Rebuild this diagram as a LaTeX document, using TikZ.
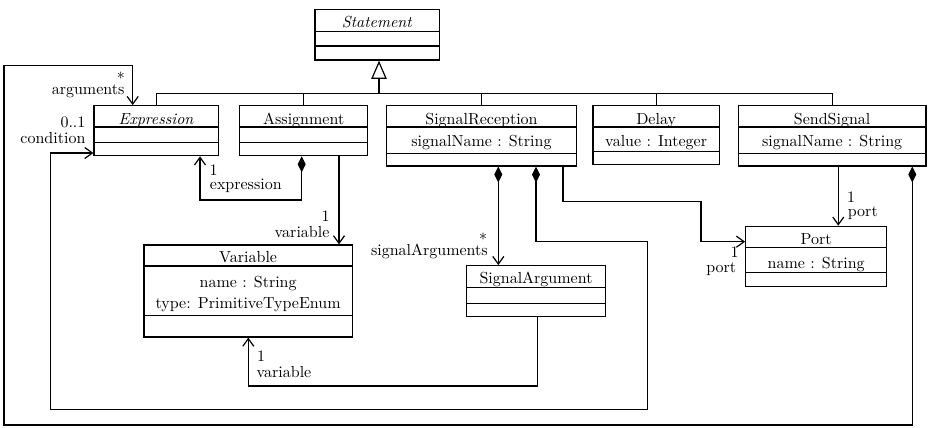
\documentclass[tikz,border=0pt]{standalone}
\usetikzlibrary{arrows.meta,fit}
% separator line between two compartments of a class box
\newcommand\umlsep[2]{\draw (#1.west |- 0,#2) -- (#1.east |- 0,#2);}
\begin{document}
\begin{tikzpicture}[x=0.625pt,y=-0.625pt,
  line width=0.75pt,
  classbox/.style={draw, inner sep=0pt, fit={#1}},
  ctext/.style={anchor=base, inner sep=0pt},
  lbl/.style={inner sep=0pt},
  assoc/.style={-{Straight Barb[length=4.8pt,width=6.9pt]}},
  compo/.style={{Diamond[length=10pt,width=5pt]}-{Straight Barb[length=4.8pt,width=6.9pt]}},
  inherit/.style={-{Triangle[open,length=11.4pt,width=9.6pt]}},
]
\useasboundingbox (0,0) rectangle (929,427);

% ---- classes ----
\node[classbox={(315,9.3) (439.3,60)}] (stmt) {};
\umlsep{stmt}{31.7}\umlsep{stmt}{46}
\node[ctext] (stmt-name) at (stmt.center |- 0,27.5) {\textit{Statement}};

\node[classbox={(94,105.7) (218.3,155.7)}] (expr) {};
\umlsep{expr}{127}\umlsep{expr}{142.3}
\node[ctext] (expr-name) at (expr.center |- 0,124) {\textit{Expression}};

\node[classbox={(239.7,105.7) (367.7,155.7)}] (assign) {};
\umlsep{assign}{127}\umlsep{assign}{142.3}
\node[ctext] (assign-name) at (assign.center |- 0,124) {Assignment};

\node[classbox={(386.7,105.7) (576.3,166)}] (sigrec) {};
\umlsep{sigrec}{127}\umlsep{sigrec}{153.3}
\node[ctext] (sigrec-name) at (sigrec.center |- 0,124) {SignalReception};
\node[ctext] (sigrec-attr) at (sigrec.center |- 0,146.7) {signalName : String};

\node[classbox={(593,105.7) (719.3,164.7)}] (delay) {};
\umlsep{delay}{127}\umlsep{delay}{151.3}
\node[ctext] (delay-name) at (delay.center |- 0,124) {Delay};
\node[ctext] (delay-attr) at (delay.center |- 0,146.7) {value : Integer};

\node[classbox={(738.3,105.7) (926,166)}] (send) {};
\umlsep{send}{127}\umlsep{send}{153.3}
\node[ctext] (send-name) at (send.center |- 0,124) {SendSignal};
\node[ctext] (send-attr) at (send.center |- 0,146.7) {signalName : String};

\node[classbox={(144,245) (352.3,337)}] (var) {};
\umlsep{var}{266}\umlsep{var}{315.3}
\node[ctext] (var-name) at (var.center |- 0,262.7) {Variable};
\node[ctext] (var-attr1) at (var.center |- 0,287.3) {name : String};
\node[ctext] (var-attr2) at (var.center |- 0,308.7) {type: PrimitiveTypeEnum};

\node[classbox={(466.7,265.7) (605.3,316.7)}] (sigarg) {};
\umlsep{sigarg}{287.7}\umlsep{sigarg}{303.3}
\node[ctext] (sigarg-name) at (sigarg.center |- 0,283.3) {SignalArgument};

\node[classbox={(745.7,226.3) (886.7,286.7)}] (port) {};
\umlsep{port}{247.7}\umlsep{port}{272.7}
\node[ctext] (port-name) at (port.center |- 0,244.3) {Port};
\node[ctext] (port-attr) at (port.center |- 0,268.3) {name : String};

% ---- generalization ----
\coordinate (bus) at (379,93.7);
\draw[inherit] (bus) -- (stmt.south -| bus);
\draw (expr.north) -- (expr.north |- bus) -- (send.north |- bus) -- (send.north);
\foreach \c in {assign,sigrec,delay} \draw (\c.north) -- (\c.north |- bus);

% ---- arguments: SendSignal -> Expression ----
\coordinate (argsA) at (912.3,425);
\coordinate (argsB) at (4,65.7);
\coordinate (argsC) at (132.7,65.7);
\draw[compo] (send.south -| argsA) -- (argsA) -- (argsB |- argsA) -- (argsB) -- (argsC) -- (expr.north -| argsC);

% ---- condition: SignalReception -> Expression ----
\coordinate (condA) at (536,241.7);
\coordinate (condB) at (647.7,409.3);
\coordinate (condC) at (50.7,153);
\draw[compo] (sigrec.south -| condA) -- (condA) -- (condB |- condA) -- (condB) -- (condC |- condB) -- (condC) -- (expr.west |- condC);

% ---- expression: Assignment -> Expression ----
\coordinate (exprA) at (301.7,200);
\coordinate (exprB) at (200,200);
\draw[compo] (assign.south -| exprA) -- (exprA) -- (exprB) -- (expr.south -| exprB);

% ---- variable: Assignment -> Variable ----
\coordinate (avX) at (339,0);
\draw[assoc] (assign.south -| avX) -- (var.north -| avX);

% ---- signalArguments: SignalReception -> SignalArgument ----
\coordinate (saX) at (498.3,0);
\draw[compo] (sigrec.south -| saX) -- (sigarg.north -| saX);

% ---- variable: SignalArgument -> Variable ----
\coordinate (svA) at (537.3,386);
\coordinate (svB) at (248.3,386);
\draw[assoc] (sigarg.south -| svA) -- (svA) -- (svB) -- (var.south -| svB);

% ---- port: SignalReception -> Port ----
\coordinate (spA) at (563,201.7);
\coordinate (spB) at (701,201.7);
\coordinate (spC) at (701,241.7);
\draw[assoc] (sigrec.south -| spA) -- (spA) -- (spB) -- (spC) -- (port.west |- spC);

% ---- port: SendSignal -> Port ----
\coordinate (ppX) at (838.3,0);
\draw[assoc] (send.south -| ppX) -- (port.north -| ppX);

% ---- role names and multiplicities ----
\node[lbl, anchor=base east] (argsMult) at (125.5,79.7) {$*$};
\node[lbl, anchor=base east] (argsRole) at (125,94.3) {arguments};
\node[lbl, anchor=base east] (condMult) at (86,127.7) {0..1};
\node[lbl, anchor=base east] (condRole) at (86,143.3) {condition};
\node[lbl, anchor=base west] (exprMult) at (209,175.7) {1};
\node[lbl, anchor=base west] (exprRole) at (209.3,189.5) {expression};
\node[lbl, anchor=base east] (varMult) at (330.3,221.7) {1};
\node[lbl, anchor=base east] (varRole) at (330,237.7) {variable};
\node[lbl, anchor=base east] (sargMult) at (487.8,240) {$*$};
\node[lbl, anchor=base east] (sargRole) at (488.3,255) {signalArguments};
\node[lbl, anchor=base west] (svMult) at (256.5,361.7) {1};
\node[lbl, anchor=base west] (svRole) at (256,377.7) {variable};
\node[lbl, anchor=base east] (rpMult) at (739.3,257.8) {1};
\node[lbl, anchor=base east] (rpRole) at (736.7,272.2) {port};
\node[lbl, anchor=base west] (spMult) at (846.5,202.7) {1};
\node[lbl, anchor=base west] (spRole) at (847.3,216.7) {port};
\end{tikzpicture}
\end{document}
